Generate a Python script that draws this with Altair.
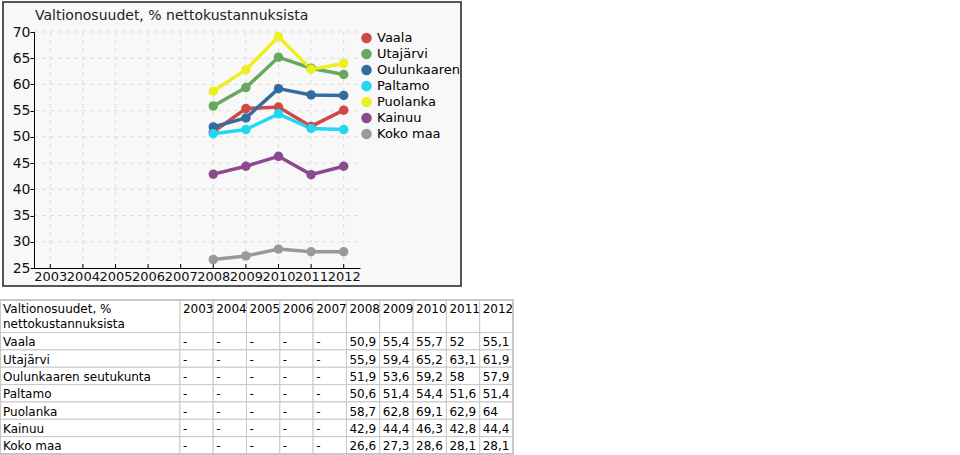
import altair as alt
import pandas as pd

TITLE = "Valtionosuudet, % nettokustannuksista"
TABLE_HEAD = "Valtionosuudet, %\nnettokustannuksista"
YEARS = [2003, 2004, 2005, 2006, 2007, 2008, 2009, 2010, 2011, 2012]
SERIES = ["Vaala", "Utajärvi", "Oulunkaaren seutukunta", "Paltamo", "Puolanka", "Kainuu", "Koko maa"]
VAALA = [None, None, None, None, None, 50.9, 55.4, 55.7, 52, 55.1]
UTAJARVI = [None, None, None, None, None, 55.9, 59.4, 65.2, 63.1, 61.9]
OULUNKAAREN = [None, None, None, None, None, 51.9, 53.6, 59.2, 58, 57.9]
PALTAMO = [None, None, None, None, None, 50.6, 51.4, 54.4, 51.6, 51.4]
PUOLANKA = [None, None, None, None, None, 58.7, 62.8, 69.1, 62.9, 64]
KAINUU = [None, None, None, None, None, 42.9, 44.4, 46.3, 42.8, 44.4]
KOKO_MAA = [None, None, None, None, None, 26.6, 27.3, 28.6, 28.1, 28.1]
VALUES = [VAALA, UTAJARVI, OULUNKAAREN, PALTAMO, PUOLANKA, KAINUU, KOKO_MAA]
COLORS = ["#d04848", "#68a860", "#346ca0", "#22d8ee", "#ecf022", "#8a4a8c", "#999999"]
Y_TICKS = [25, 30, 35, 40, 45, 50, 55, 60, 65, 70]

FONT = "DejaVu Sans"
W, H = 326, 236
OX, OY = 34, 32

# ---------- chart data ----------
rows = []
for s, vals in zip(SERIES, VALUES):
    for y, v in zip(YEARS, vals):
        if v is not None:
            rows.append({"series": s, "year": y, "value": v})
df = pd.DataFrame(rows)

xs = alt.Scale(type="point", domain=YEARS, padding=0.5)
ys = alt.Scale(domain=[25, 70], nice=False, zero=False)
cs = alt.Scale(domain=SERIES, range=COLORS)

x_axis = alt.Axis(
    title=None, orient="bottom", labelFont=FONT, labelFontSize=13, labelColor="#111111",
    labelAngle=0, labelAlign="center", labelBaseline="top",
    labelOverlap=False, labelBound=False, labelPadding=2, ticks=False,
    domainColor="#000000", grid=False, zindex=1,
)
y_axis = alt.Axis(
    title=None, orient="left", values=Y_TICKS, labelFont=FONT, labelFontSize=14,
    labelColor="#111111", labelAlign="right", labelBaseline="middle", labelOverlap=False,
    labelPadding=0, tickSize=4, tickColor="#000000", domainColor="#000000", grid=False, zindex=1,
)
legend = alt.Legend(
    orient="none", legendX=326, legendY=-1.75, title=None, symbolType="circle",
    symbolSize=110, symbolStrokeWidth=0, symbolOpacity=1, labelFont=FONT,
    labelFontSize=13, labelColor="#000000", rowPadding=0, clipHeight=15.5,
    padding=0, labelOffset=4,
    labelExpr="length(datum.label) > 15 ? split(datum.label, ' ')[0] : datum.label",
)

one = pd.DataFrame({"k": [0]})

frame = alt.Chart(one).mark_rect(fill="#f8f8f8", stroke="#555555", strokeWidth=2).encode(
    x=alt.value(-31), x2=alt.value(427), y=alt.value(-30), y2=alt.value(254)
)
title = alt.Chart(one).mark_text(
    align="left", baseline="alphabetic", font=FONT, fontSize=14, color="#222222"
).encode(x=alt.value(1), y=alt.value(-12), text=alt.value(TITLE))

hgrid = alt.Chart(pd.DataFrame({"value": Y_TICKS[1:]})).mark_rule(
    color="#dddddd", strokeDash=[4, 4], strokeWidth=1
).encode(y=alt.Y("value:Q", scale=ys, axis=y_axis), x=alt.value(0), x2=alt.value(W))
vgrid = alt.Chart(pd.DataFrame({"year": YEARS})).mark_rule(
    color="#dddddd", strokeDash=[4, 4], strokeWidth=1
).encode(x=alt.X("year:O", scale=xs, axis=x_axis), y=alt.value(0), y2=alt.value(H))
# x-axis ticks pointing up into the plot, as in the reference
xticks = alt.Chart(pd.DataFrame({"year": YEARS})).mark_rule(
    color="#000000", strokeWidth=1
).encode(x=alt.X("year:O", scale=xs, axis=x_axis), y=alt.value(H - 4), y2=alt.value(H))

lines = alt.Chart(df).mark_line(strokeWidth=3.5).encode(
    x=alt.X("year:O", scale=xs, axis=x_axis),
    y=alt.Y("value:Q", scale=ys, axis=y_axis),
    color=alt.Color("series:N", scale=cs, legend=legend),
    detail="series:N",
)
points = alt.Chart(df).mark_circle(size=90, opacity=1).encode(
    x=alt.X("year:O", scale=xs, axis=x_axis),
    y=alt.Y("value:Q", scale=ys, axis=y_axis),
    color=alt.Color("series:N", scale=cs, legend=legend),
)

chart_group = alt.layer(frame, hgrid, vgrid, xticks, lines, points, title)

# ---------- table ----------
LABEL_W = 5.4
HEADER_H = 1.875
TOTAL_X = LABEL_W + len(YEARS)
TOTAL_Y = HEADER_H + len(SERIES)


def fmt(v):
    if v is None:
        return "-"
    if float(v).is_integer():
        return str(int(v))
    return str(v).replace(".", ",")


cells = []
col_edges = [(0, LABEL_W)] + [(LABEL_W + j, LABEL_W + j + 1) for j in range(len(YEARS))]
row_edges = [(0, HEADER_H)] + [(HEADER_H + k, HEADER_H + k + 1) for k in range(len(SERIES))]
head_texts = [TABLE_HEAD] + [str(y) for y in YEARS]
for ri, (y1, y2) in enumerate(row_edges):
    for ci, (x1, x2) in enumerate(col_edges):
        if ri == 0:
            t = head_texts[ci]
        elif ci == 0:
            t = SERIES[ri - 1]
        else:
            t = fmt(VALUES[ri - 1][ci - 1])
        cells.append({"x1": x1, "x2": x2, "y1": y1, "y2": y2, "ym": (y1 + y2) / 2,
                      "text": t, "head": ri == 0})
cdf = pd.DataFrame(cells)

txs = alt.Scale(domain=[0, TOTAL_X], range=[-OX, 513 - OX], nice=False, zero=False)
tys = alt.Scale(domain=[0, TOTAL_Y], range=[300 - OY, 454 - OY], nice=False, zero=False)

cell_rects = alt.Chart(cdf).mark_rect(fill="#ffffff", stroke="#c8c8c8", strokeWidth=1).encode(
    x=alt.X("x1:Q", scale=txs, axis=None), x2="x2:Q",
    y=alt.Y("y1:Q", scale=tys, axis=None), y2="y2:Q",
)
outer = alt.Chart(one).mark_rect(fill=None, stroke="#c8c8c8", strokeWidth=2).encode(
    x=alt.datum(0, scale=txs, axis=None), x2=alt.datum(TOTAL_X),
    y=alt.datum(0, scale=tys, axis=None), y2=alt.datum(TOTAL_Y),
)
head_text = alt.Chart(cdf).transform_filter("datum.head").mark_text(
    align="left", baseline="top", dx=3, dy=4, font=FONT, fontSize=12, color="#000000",
    lineBreak="\n", lineHeight=15,
).encode(x=alt.X("x1:Q", scale=txs, axis=None), y=alt.Y("y1:Q", scale=tys, axis=None), text="text:N")
body_text = alt.Chart(cdf).transform_filter("!datum.head").mark_text(
    align="left", baseline="middle", dx=3, dy=1, font=FONT, fontSize=12, color="#000000",
).encode(x=alt.X("x1:Q", scale=txs, axis=None), y=alt.Y("ym:Q", scale=tys, axis=None), text="text:N")

table_group = alt.layer(cell_rects, outer, head_text, body_text)

chart = alt.layer(chart_group, table_group).resolve_scale(
    x="independent", y="independent"
).properties(
    width=W, height=H,
    autosize=alt.AutoSizeParams(type="none"),
    padding={"left": OX, "top": OY, "right": 960 - OX - W, "bottom": 455 - OY - H},
    background="#ffffff",
).configure(font=FONT).configure_view(stroke=None)

chart.save("out.html", embed_options={"renderer": "svg", "actions": False})
